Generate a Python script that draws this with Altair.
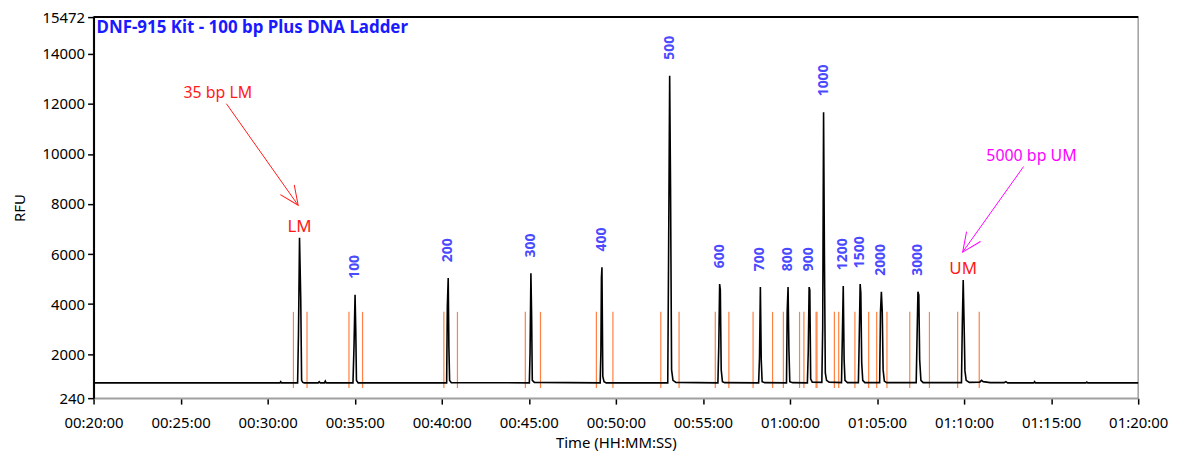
import altair as alt
import pandas as pd

# ---------------- data ----------------
# electropherogram trace: time in minutes, signal in RFU
trace_time = [
    20.00, 30.70, 30.75, 30.80,
    31.72, 31.77, 31.83, 31.90, 31.95, 32.02, 32.10,
    32.90, 32.96, 33.02, 33.26, 33.31, 33.36,
    34.90, 34.96, 35.02, 35.06, 35.10, 35.20,
    40.28, 40.32, 40.37, 40.41, 40.45, 40.55,
    45.03, 45.07, 45.12, 45.16, 45.20, 45.32,
    49.10, 49.14, 49.17, 49.20, 49.25, 49.32, 49.45,
    52.98, 53.03, 53.09, 53.14, 53.20, 53.28, 53.45,
    55.86, 55.91, 55.96, 56.00, 56.05, 56.12, 56.25,
    58.20, 58.25, 58.30, 58.35, 58.40, 58.55,
    59.80, 59.84, 59.89, 59.94, 59.99, 60.15,
    61.00, 61.05, 61.10, 61.14, 61.19, 61.28,
    61.83, 61.88, 61.93, 61.98, 62.03, 62.10, 62.25,
    62.96, 63.01, 63.06, 63.11, 63.16, 63.30,
    63.93, 63.98, 64.03, 64.07, 64.12, 64.18, 64.30,
    65.15, 65.20, 65.25, 65.30, 65.35, 65.42, 65.55,
    67.25, 67.30, 67.35, 67.40, 67.45, 67.52, 67.65,
    69.85, 69.90, 69.95, 70.00, 70.05, 70.12, 70.30,
    70.90, 71.00, 71.10, 71.30, 71.50, 72.30, 72.40, 72.50,
    74.00, 74.05, 74.10, 77.00, 77.05, 77.10, 80.00,
]
trace_rfu = [
    850, 850, 900, 850,
    850, 2810, 6650, 4200, 950, 870, 850,
    850, 900, 850, 850, 920, 850,
    850, 2330, 4375, 2970, 950, 850,
    850, 3900, 5040, 2250, 950, 860,
    850, 2010, 5230, 3570, 950, 870,
    850, 2130, 5040, 5470, 1110, 900, 850,
    850, 6150, 13130, 8680, 1370, 950, 870,
    850, 2300, 4800, 4560, 1375, 900, 860,
    850, 1850, 4680, 1770, 900, 860,
    850, 3700, 4680, 2170, 900, 860,
    850, 2100, 4680, 4560, 1000, 880,
    870, 3050, 11670, 5760, 1250, 950, 880,
    860, 2770, 4720, 1770, 950, 860,
    860, 2700, 4800, 4440, 1650, 950, 860,
    860, 3700, 4495, 3700, 1370, 920, 860,
    860, 2700, 4495, 4360, 1770, 950, 860,
    860, 3250, 4960, 3250, 1330, 950, 870,
    880, 950, 900, 880, 860, 860, 900, 850,
    850, 900, 850, 850, 880, 850, 850,
]

# peaks
peak_labels = ["LM", "100", "200", "300", "400", "500", "600", "700", "800",
               "900", "1000", "1200", "1500", "2000", "3000", "UM"]
peak_times = [31.83, 35.02, 40.37, 45.12, 49.20, 53.09, 55.96, 58.30, 59.89,
              61.10, 61.93, 63.06, 64.03, 65.25, 67.35, 69.95]
peak_heights = [6650, 4375, 5040, 5230, 5470, 13130, 4800, 4680, 4680,
                4680, 11670, 4720, 4800, 4495, 4495, 4960]
marker_peaks = ["LM", "UM"]

# peak integration window markers (orange)
window_times = [31.48, 32.26, 34.67, 35.45, 40.12, 40.90, 44.80, 45.67,
                48.88, 49.83, 52.58, 53.63, 55.71, 56.49, 57.88, 59.00,
                59.62, 60.55, 60.80, 61.50, 61.55, 62.55, 62.80, 63.73,
                64.52, 64.98, 65.57, 66.88, 68.01, 69.63, 70.87]
window_top = 3690
window_bottom = 646

# annotations
ann_text = ["35 bp LM", "5000 bp UM"]
ann_color = ["#ff1a1a", "#ff00ff"]
ann_text_time = [27.14, 73.87]
ann_text_rfu = [12430, 9900]
arrow_from_time = [27.63, 73.42]
arrow_from_rfu = [12010, 9500]
arrow_to_time = [31.75, 69.92]
arrow_to_rfu = [7950, 6080]
arrow_angle = [145, 215]

x_ticks = [20, 25, 30, 35, 40, 45, 50, 55, 60, 65, 70, 75, 80]
y_ticks = [240, 2000, 4000, 6000, 8000, 10000, 12000, 14000, 15472]

title_text = "DNF-915 Kit - 100 bp Plus DNA Ladder"

# ---------------- tables ----------------
trace_df = pd.DataFrame({"time": trace_time, "rfu": trace_rfu})
peaks_df = pd.DataFrame({"label": peak_labels, "time": peak_times, "rfu": peak_heights})
size_df = peaks_df[~peaks_df["label"].isin(marker_peaks)]
mark_df = peaks_df[peaks_df["label"].isin(marker_peaks)]
win_df = pd.DataFrame({"time": window_times, "top": window_top, "bottom": window_bottom})
ann_df = pd.DataFrame({
    "text": ann_text, "color": ann_color, "tt": ann_text_time, "tr": ann_text_rfu,
    "ft": arrow_from_time, "fr": arrow_from_rfu, "et": arrow_to_time, "er": arrow_to_rfu,
    "angle": arrow_angle,
})

FONT = "Noto Sans"
xscale = alt.Scale(domain=[20, 80], nice=False, zero=False)
yscale = alt.Scale(domain=[240, 15472], nice=False, zero=False)

label_expr = ("(floor(datum.value/60)<10?'0':'')+floor(datum.value/60)+':'+"
              "((datum.value%60)<10?'0':'')+(datum.value%60)+':00'")

x_enc = alt.X("time:Q", scale=xscale, axis=alt.Axis(
    values=x_ticks, labelExpr=label_expr, title="Time (HH:MM:SS)", grid=False,
    domainColor="#a0a0a0", domainWidth=1.5, tickColor="#000", tickWidth=1.5, tickSize=6,
    labelPadding=12, titlePadding=5, labelFlush=False,
    labelFont=FONT, labelFontSize=15, labelColor="#000",
    titleFont=FONT, titleFontSize=15, titleFontWeight="normal", titleColor="#000"))
y_enc = alt.Y("rfu:Q", scale=yscale, axis=alt.Axis(
    values=y_ticks, format="d", title="RFU", grid=False, domainColor="#000", domainWidth=2,
    tickColor="#000", tickWidth=1.5, tickSize=6, labelPadding=3, titlePadding=15,
    labelFlush=False,
    labelFont=FONT, labelFontSize=15, labelColor="#000",
    titleFont=FONT, titleFontSize=15, titleFontWeight="normal", titleColor="#000"))

windows = alt.Chart(win_df).mark_rule(color="#ff8040", strokeWidth=1.2).encode(
    x=alt.X("time:Q", scale=xscale),
    y=alt.Y("top:Q", scale=yscale),
    y2="bottom:Q",
)

line = alt.Chart(trace_df).mark_line(color="black", strokeWidth=1.6).encode(
    x=x_enc, y=y_enc, order="time:Q"
)

size_labels = alt.Chart(size_df).mark_text(
    angle=270, align="left", baseline="middle", dx=16, font=FONT,
    fontSize=14, fontWeight="bold", color="#4a4aff",
).encode(x=alt.X("time:Q", scale=xscale), y=alt.Y("rfu:Q", scale=yscale), text="label:N")

marker_labels = alt.Chart(mark_df).mark_text(
    align="center", baseline="alphabetic", dy=-6, font=FONT, fontSize=17, color="#ff1a1a",
).encode(x=alt.X("time:Q", scale=xscale), y=alt.Y("rfu:Q", scale=yscale), text="label:N")

ann_labels = alt.Chart(ann_df).mark_text(
    align="center", baseline="middle", font=FONT, fontSize=16,
).encode(x=alt.X("tt:Q", scale=xscale), y=alt.Y("tr:Q", scale=yscale),
         text="text:N", color=alt.Color("color:N", scale=None))

shafts = alt.Chart(ann_df).mark_rule(strokeWidth=1).encode(
    x=alt.X("ft:Q", scale=xscale), y=alt.Y("fr:Q", scale=yscale),
    x2="et:Q", y2="er:Q", color=alt.Color("color:N", scale=None))

heads = alt.Chart(ann_df).mark_point(
    shape="M -0.45 1 L 0 0 L 0.45 1", filled=False, size=1444, strokeWidth=1, opacity=1,
).encode(x=alt.X("et:Q", scale=xscale), y=alt.Y("er:Q", scale=yscale),
         angle=alt.Angle("angle:Q", scale=None), color=alt.Color("color:N", scale=None))

title_df = pd.DataFrame({"t": [title_text]})
title = alt.Chart(title_df).mark_text(
    align="left", baseline="middle", font=FONT, fontSize=17, fontWeight="bold", color="#1a1aff",
).encode(x=alt.value(3), y=alt.value(11), text="t:N")

top_border = alt.Chart(title_df).mark_rule(color="#000", strokeWidth=2).encode(
    x=alt.value(0), x2=alt.value(1050), y=alt.value(0))

chart = alt.layer(
    windows, line, size_labels, marker_labels, shafts, heads, ann_labels, title, top_border
).properties(
    width=1050, height=383,
    background="white",
    autosize=alt.AutoSizeParams(type="none"),
    padding={"left": 86, "top": 8, "right": 36, "bottom": 58},
).configure_view(
    stroke="#a0a0a0", strokeWidth=1.5
)

chart.save("out.html", embed_options={"renderer": "svg", "actions": False})
